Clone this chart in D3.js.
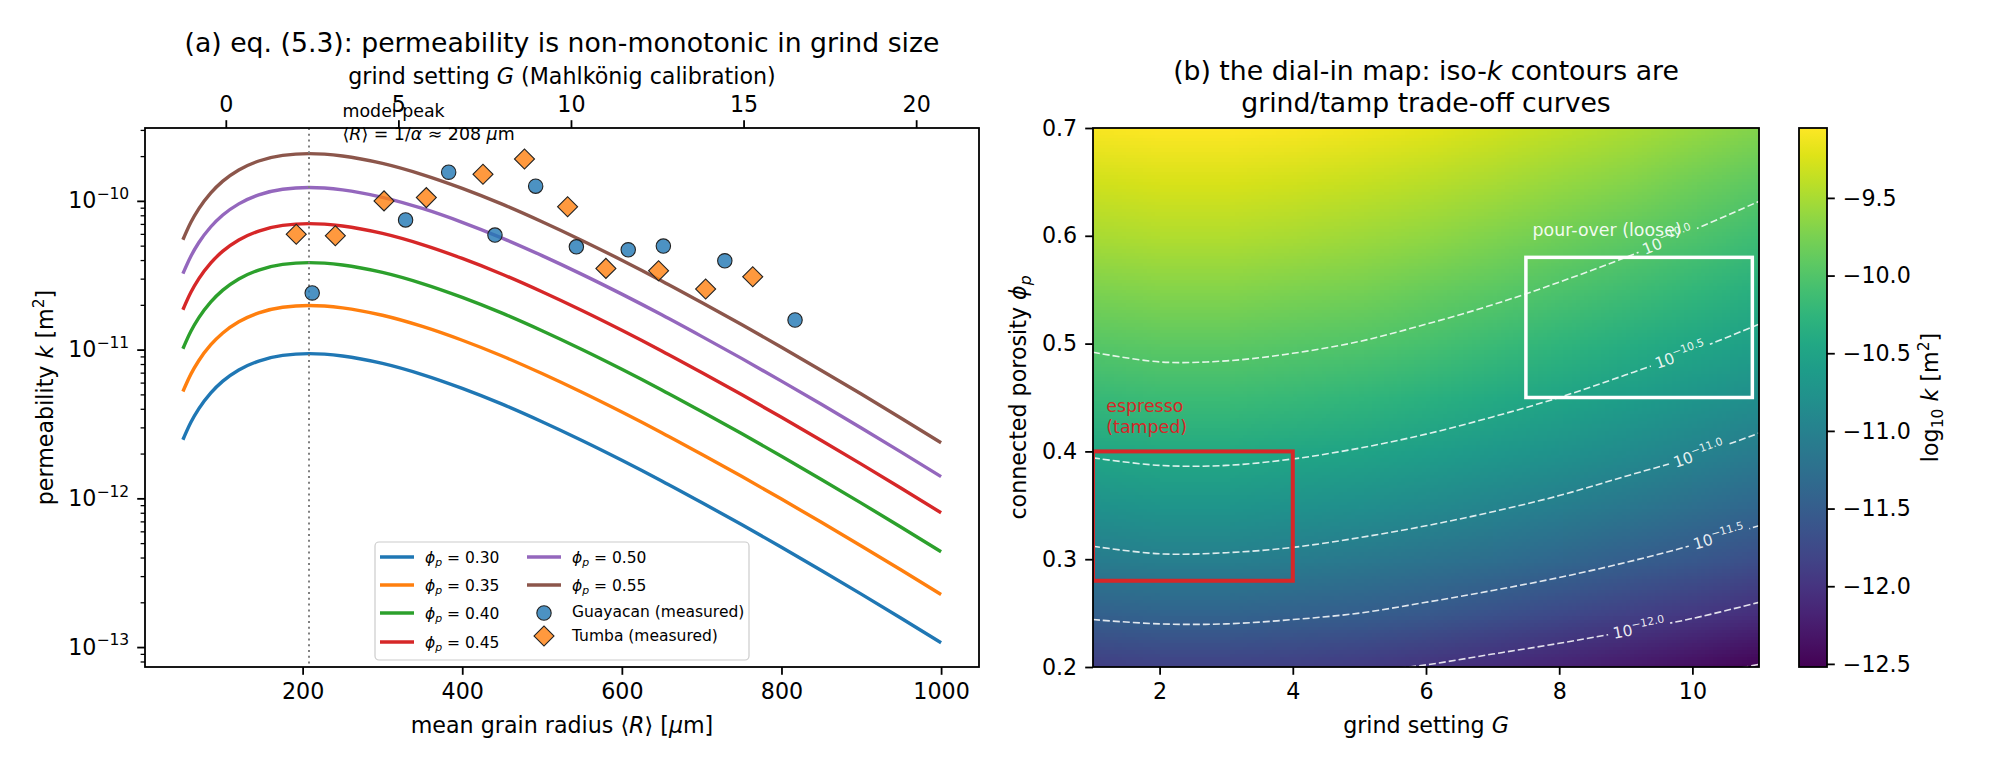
<!DOCTYPE html>
<html>
<head>
<meta charset="utf-8">
<script src="https://cdn.jsdelivr.net/npm/d3@7"></script>
<style>
  body { margin: 0; background: #fff; }
  svg { font-family: 'DejaVu Sans', sans-serif; }
  svg text { white-space: pre; }
</style>
</head>
<body>
<svg id="fig" width="2000" height="768"></svg>
<script>
// ---------- panel (a): model curves (log10 k in m^2) ----------
const radius = [50, 60, 70, 85, 100, 120, 145, 175, 208, 250, 300, 350, 400, 450, 500, 550, 600, 650, 700, 750, 800, 850, 900, 950, 1000];
const phiLevels = [0.30, 0.35, 0.40, 0.45, 0.50, 0.55];
const logK030 = [-11.606, -11.489, -11.397, -11.291, -11.212, -11.137, -11.077, -11.039, -11.027, -11.043, -11.093, -11.168, -11.261, -11.367, -11.485, -11.611, -11.744, -11.883, -12.028, -12.176, -12.329, -12.485, -12.644, -12.806, -12.971];
const logK035 = [-11.282, -11.165, -11.073, -10.967, -10.888, -10.813, -10.753, -10.715, -10.703, -10.719, -10.769, -10.844, -10.937, -11.043, -11.161, -11.287, -11.420, -11.559, -11.704, -11.852, -12.005, -12.161, -12.320, -12.482, -12.647];
const logK040 = [-10.994, -10.877, -10.785, -10.679, -10.600, -10.525, -10.465, -10.427, -10.415, -10.431, -10.481, -10.556, -10.649, -10.755, -10.873, -10.999, -11.132, -11.271, -11.416, -11.564, -11.717, -11.873, -12.032, -12.194, -12.359];
const logK045 = [-10.732, -10.615, -10.523, -10.417, -10.338, -10.263, -10.203, -10.165, -10.153, -10.169, -10.219, -10.294, -10.387, -10.493, -10.611, -10.737, -10.870, -11.009, -11.154, -11.302, -11.455, -11.611, -11.770, -11.932, -12.097];
const logK050 = [-10.489, -10.372, -10.280, -10.174, -10.095, -10.020, -9.960, -9.922, -9.910, -9.926, -9.976, -10.051, -10.144, -10.250, -10.368, -10.494, -10.627, -10.766, -10.911, -11.059, -11.212, -11.368, -11.527, -11.689, -11.854];
const logK055 = [-10.261, -10.144, -10.052, -9.946, -9.867, -9.792, -9.732, -9.694, -9.682, -9.698, -9.748, -9.823, -9.916, -10.022, -10.140, -10.266, -10.399, -10.538, -10.683, -10.831, -10.984, -11.140, -11.299, -11.461, -11.626];
const curveColors = ['#1f77b4', '#ff7f0e', '#2ca02c', '#d62728', '#9467bd', '#8c564b'];

const guayacanR = [212, 329, 383, 441, 492, 543, 608, 652, 729, 817];
const guayacanLogK = [-10.619, -10.128, -9.807, -10.230, -9.901, -10.309, -10.329, -10.304, -10.403, -10.801];
const tumbaR = [192, 241, 302, 355, 426, 478, 532, 580, 646, 705, 764];
const tumbaLogK = [-10.224, -10.235, -10.000, -9.978, -9.821, -9.718, -10.040, -10.454, -10.470, -10.593, -10.510];

const peakR = 208;
const noteAt = [250, -9.62];
const radiusLim = [2.5, 1047.5];
const logKLim = [-13.134, -9.51];
const radiusTicks = [200, 400, 600, 800, 1000];
const kTicks = [1e-13, 1e-12, 1e-11, 1e-10];
const gridTicksTop = [0, 5, 10, 15, 20];
const calibR0 = 103.75, calibSlope = 43.25;   // R = calibR0 + calibSlope * G

// ---------- panel (b): dial-in map ----------
const gridG = [1, 2, 3, 4, 5, 6, 7, 8, 9, 10, 11];
const gridPhi = [0.20, 0.25, 0.30, 0.35, 0.40, 0.45, 0.50, 0.55, 0.60, 0.65, 0.70];
const logKGrid = [
  [-11.90, -11.86, -11.86, -11.89, -11.95, -12.02, -12.11, -12.20, -12.30, -12.41, -12.52],
  [-11.45, -11.41, -11.41, -11.45, -11.50, -11.57, -11.66, -11.75, -11.85, -11.96, -12.07],
  [-11.08, -11.03, -11.04, -11.07, -11.13, -11.20, -11.28, -11.37, -11.48, -11.58, -11.70],
  [-10.75, -10.71, -10.71, -10.75, -10.80, -10.87, -10.96, -11.05, -11.15, -11.26, -11.37],
  [-10.46, -10.42, -10.43, -10.46, -10.51, -10.59, -10.67, -10.76, -10.86, -10.97, -11.09],
  [-10.20, -10.16, -10.16, -10.20, -10.25, -10.32, -10.41, -10.50, -10.60, -10.71, -10.82],
  [-9.96, -9.92, -9.92, -9.96, -10.01, -10.08, -10.17, -10.26, -10.36, -10.47, -10.58],
  [-9.73, -9.69, -9.69, -9.73, -9.78, -9.85, -9.94, -10.03, -10.13, -10.24, -10.35],
  [-9.51, -9.47, -9.47, -9.51, -9.56, -9.63, -9.72, -9.81, -9.91, -10.02, -10.14],
  [-9.30, -9.26, -9.26, -9.30, -9.35, -9.42, -9.51, -9.60, -9.70, -9.81, -9.92],
  [-9.09, -9.05, -9.05, -9.09, -9.14, -9.21, -9.30, -9.39, -9.49, -9.60, -9.71]
];
const contourLevels = [-10.0, -10.5, -11.0, -11.5, -12.0, -12.5];
const iso100 = [[1, 0.492], [2, 0.483], [3, 0.484], [4, 0.491], [5, 0.502], [6, 0.518], [7, 0.536], [8, 0.557], [9, 0.580], [10, 0.605], [11, 0.632]];
const iso105 = [[1, 0.394], [2, 0.387], [3, 0.387], [4, 0.393], [5, 0.403], [6, 0.416], [7, 0.432], [8, 0.450], [9, 0.471], [10, 0.493], [11, 0.518]];
const iso110 = [[1, 0.312], [2, 0.305], [3, 0.306], [4, 0.311], [5, 0.320], [6, 0.331], [7, 0.344], [8, 0.359], [9, 0.377], [10, 0.395], [11, 0.417]];
const iso115 = [[1, 0.244], [2, 0.240], [3, 0.240], [4, 0.244], [5, 0.250], [6, 0.260], [7, 0.271], [8, 0.283], [9, 0.297], [10, 0.313], [11, 0.331]];
const iso120 = [[5, 0.195], [6, 0.202], [7, 0.212], [8, 0.222], [9, 0.233], [10, 0.245], [11, 0.260]];
const iso125 = [[10, 0.190], [11, 0.2025]];
const labelG = [9.63, 9.82, 10.1, 10.4, 9.2, null];
const espressoBox = [1, 4, 0.28, 0.40];
const pourOverBox = [7.5, 10.9, 0.45, 0.58];
const gTicks = [2, 4, 6, 8, 10];
const phiTicks = [0.2, 0.3, 0.4, 0.5, 0.6, 0.7];
const cbTicks = [-12.5, -12.0, -11.5, -11.0, -10.5, -10.0, -9.5];

// ---------- helpers ----------
const FS = 22.2, FST = 26.7, FSN = 17.4, FSL = 15.5, FSC = 15.5;
const TICK = 7.8, MINOR = 4.4, PAD = 8;

// parts: 'plain' or [text, flags]; flags: i = italic, b = subscript, u = superscript
function rich(sel, parts, fs) {
  let cur = 0;
  parts.forEach(p => {
    const [txt, st] = typeof p === 'string' ? [p, ''] : p;
    const target = st.includes('b') ? 0.24 * fs : st.includes('u') ? -0.42 * fs : 0;
    const ts = sel.append('tspan').text(txt);
    if (target !== cur) ts.attr('dy', target - cur);
    if (st.includes('i')) ts.attr('font-style', 'italic');
    if (st.includes('b') || st.includes('u')) ts.attr('font-size', 0.7 * fs);
    cur = target;
  });
  return sel;
}

function styleAxis(g, w) {
  g.attr('font-family', null).attr('font-size', null);
  g.select('.domain').remove();
  g.selectAll('.tick line').attr('stroke', '#000').attr('stroke-width', w || 1.8);
  g.selectAll('.tick text').attr('font-size', FS).attr('fill', '#000');
}

const svg = d3.select('#fig');
const defs = svg.append('defs');

// ================= panel (a) =================
const A = {x0: 145, x1: 979, y0: 128, y1: 667};
const x = d3.scaleLinear().domain(radiusLim).range([A.x0, A.x1]);
const y = d3.scaleLog().domain(logKLim.map(v => 10 ** v)).range([A.y1, A.y0]);
const xTop = d3.scaleLinear()
  .domain(radiusLim.map(r => (r - calibR0) / calibSlope))
  .range([A.x0, A.x1]);

defs.append('clipPath').attr('id', 'clipA')
  .append('rect').attr('x', A.x0).attr('y', A.y0).attr('width', A.x1 - A.x0).attr('height', A.y1 - A.y0);

const gA = svg.append('g');

const series = [logK030, logK035, logK040, logK045, logK050, logK055]
  .map((vals, i) => ({phi: phiLevels[i], color: curveColors[i], pts: radius.map((r, j) => [r, vals[j]])}));

const line = d3.line()
  .x(d => x(d[0]))
  .y(d => y(10 ** d[1]))
  .curve(d3.curveMonotoneX);

const plotA = gA.append('g').attr('clip-path', 'url(#clipA)');
plotA.selectAll('path.model')
  .data(series)
  .enter()
  .append('path')
  .attr('class', 'model')
  .attr('d', d => line(d.pts))
  .attr('fill', 'none')
  .attr('stroke', d => d.color)
  .attr('stroke-width', 3.4);

plotA.append('line')
  .attr('x1', x(peakR)).attr('x2', x(peakR))
  .attr('y1', A.y0).attr('y2', A.y1)
  .attr('stroke', '#808080').attr('stroke-width', 2)
  .attr('stroke-dasharray', '2,3.8');

const diamond = d3.symbol().type(d3.symbolSquare).size(200);
plotA.selectAll('path.tumba')
  .data(tumbaR.map((r, i) => [r, tumbaLogK[i]]))
  .enter()
  .append('path')
  .attr('class', 'tumba')
  .attr('d', diamond)
  .attr('transform', d => `translate(${x(d[0])},${y(10 ** d[1])}) rotate(45)`)
  .attr('fill', '#ff7f0e').attr('fill-opacity', 0.8)
  .attr('stroke', '#222').attr('stroke-width', 1.1);

plotA.selectAll('circle.guay')
  .data(guayacanR.map((r, i) => [r, guayacanLogK[i]]))
  .enter()
  .append('circle')
  .attr('class', 'guay')
  .attr('cx', d => x(d[0]))
  .attr('cy', d => y(10 ** d[1]))
  .attr('r', 7.2)
  .attr('fill', '#1f77b4').attr('fill-opacity', 0.8)
  .attr('stroke', '#222').attr('stroke-width', 1.1);

// annotation of the model peak
const nx = x(noteAt[0]), ny = y(10 ** noteAt[1]);
gA.append('text').attr('x', nx).attr('y', ny - 27).attr('font-size', FSN).text('model peak');
rich(gA.append('text').attr('x', nx).attr('y', ny - 4).attr('font-size', FSN),
  ['⟨', ['R', 'i'], '⟩ = 1/', ['α', 'i'], ' ≈ 208 ', ['μ', 'i'], 'm'], FSN);

// axes
const axB = gA.append('g').attr('transform', `translate(0,${A.y1})`)
  .call(d3.axisBottom(x).tickValues(radiusTicks).tickFormat(d3.format('d')).tickSize(TICK).tickSizeOuter(0).tickPadding(PAD));
styleAxis(axB);

const axT = gA.append('g').attr('transform', `translate(0,${A.y0})`)
  .call(d3.axisTop(xTop).tickValues(gridTicksTop).tickFormat(d3.format('d')).tickSize(TICK).tickSizeOuter(0).tickPadding(PAD));
styleAxis(axT);

const minorK = y.ticks().filter(v => Math.abs(Math.log10(v) - Math.round(Math.log10(v))) > 1e-6);
const axLm = gA.append('g').attr('transform', `translate(${A.x0},0)`)
  .call(d3.axisLeft(y).tickValues(minorK).tickFormat(() => '').tickSize(MINOR).tickSizeOuter(0));
styleAxis(axLm, 1.3);

const axL = gA.append('g').attr('transform', `translate(${A.x0},0)`)
  .call(d3.axisLeft(y).tickValues(kTicks).tickSize(TICK).tickSizeOuter(0).tickPadding(PAD));
styleAxis(axL);
axL.selectAll('.tick text').each(function (d) {
  const t = d3.select(this).text(null);
  rich(t, ['10', ['−' + Math.abs(Math.round(Math.log10(d))), 'u']], FS);
});

gA.append('rect')
  .attr('x', A.x0).attr('y', A.y0).attr('width', A.x1 - A.x0).attr('height', A.y1 - A.y0)
  .attr('fill', 'none').attr('stroke', '#000').attr('stroke-width', 1.8);

// labels
const cxA = (A.x0 + A.x1) / 2;
gA.append('text').attr('x', cxA).attr('y', 52).attr('text-anchor', 'middle').attr('font-size', FST)
  .text('(a) eq. (5.3): permeability is non-monotonic in grind size');
rich(gA.append('text').attr('x', cxA).attr('y', 84).attr('text-anchor', 'middle').attr('font-size', FS),
  ['grind setting ', ['G', 'i'], ' (Mahlkönig calibration)'], FS);
rich(gA.append('text').attr('x', cxA).attr('y', 733).attr('text-anchor', 'middle').attr('font-size', FS),
  ['mean grain radius ⟨', ['R', 'i'], '⟩ [', ['μ', 'i'], 'm]'], FS);
rich(gA.append('text').attr('transform', `translate(53,${(A.y0 + A.y1) / 2}) rotate(-90)`)
  .attr('text-anchor', 'middle').attr('font-size', FS),
  ['permeability ', ['k', 'i'], ' [m', ['2', 'u'], ']'], FS);

// legend
const leg = gA.append('g');
leg.append('rect').attr('x', 375).attr('y', 542).attr('width', 374).attr('height', 118).attr('rx', 4)
  .attr('fill', '#fff').attr('fill-opacity', 0.8).attr('stroke', '#cccccc').attr('stroke-width', 1.2);
const legCols = [{hx: 380, tx: 425}, {hx: 527, tx: 572}];
const legRows = [557, 585, 613, 642];
series.forEach((s, i) => {
  const col = legCols[i < 4 ? 0 : 1];
  const ry = i < 4 ? legRows[i] : legRows[i - 4];
  leg.append('line').attr('x1', col.hx).attr('x2', col.hx + 34).attr('y1', ry).attr('y2', ry)
    .attr('stroke', s.color).attr('stroke-width', 3.4);
  rich(leg.append('text').attr('x', col.tx).attr('y', ry + 5.5).attr('font-size', FSL),
    [['ϕ', 'i'], ['p', 'ib'], ' = ' + d3.format('.2f')(s.phi)], FSL);
});
leg.append('circle').attr('cx', 544).attr('cy', 613).attr('r', 7.2)
  .attr('fill', '#1f77b4').attr('fill-opacity', 0.8).attr('stroke', '#222').attr('stroke-width', 1.1);
leg.append('text').attr('x', 572).attr('y', 616.5).attr('font-size', FSL).text('Guayacan (measured)');
leg.append('path').attr('d', diamond).attr('transform', 'translate(544,636) rotate(45)')
  .attr('fill', '#ff7f0e').attr('fill-opacity', 0.8).attr('stroke', '#222').attr('stroke-width', 1.1);
leg.append('text').attr('x', 572).attr('y', 640.5).attr('font-size', FSL).text('Tumba (measured)');

// ================= panel (b) =================
const B = {x0: 1093, x1: 1759, y0: 128, y1: 667};
const xG = d3.scaleLinear().domain([gridG[0], gridG[gridG.length - 1]]).range([B.x0, B.x1]);
const yP = d3.scaleLinear().domain([gridPhi[0], gridPhi[gridPhi.length - 1]]).range([B.y1, B.y0]);
const kExt = d3.extent(logKGrid.flat());
const color = v => d3.interpolateViridis((v - kExt[0]) / (kExt[1] - kExt[0]));

defs.append('clipPath').attr('id', 'clipB')
  .append('rect').attr('x', B.x0).attr('y', B.y0).attr('width', B.x1 - B.x0).attr('height', B.y1 - B.y0);

const gB = svg.append('g');
const plotB = gB.append('g').attr('clip-path', 'url(#clipB)');

// heat map: one pixel per grid node, smoothed by the browser when scaled up
const cnv = document.createElement('canvas');
cnv.width = gridG.length;
cnv.height = gridPhi.length;
const ctx = cnv.getContext('2d');
const img = ctx.createImageData(cnv.width, cnv.height);
gridPhi.forEach((p, pi) => {
  const row = cnv.height - 1 - pi;
  gridG.forEach((g, gi) => {
    const c = d3.rgb(color(logKGrid[pi][gi]));
    const k = (row * cnv.width + gi) * 4;
    img.data[k] = c.r; img.data[k + 1] = c.g; img.data[k + 2] = c.b; img.data[k + 3] = 255;
  });
});
ctx.putImageData(img, 0, 0);
const dG = gridG[1] - gridG[0], dP = gridPhi[1] - gridPhi[0];
plotB.append('image')
  .attr('href', cnv.toDataURL())
  .attr('preserveAspectRatio', 'none')
  .attr('x', xG(gridG[0] - dG / 2))
  .attr('y', yP(gridPhi[gridPhi.length - 1] + dP / 2))
  .attr('width', xG(gridG[gridG.length - 1] + dG / 2) - xG(gridG[0] - dG / 2))
  .attr('height', yP(gridPhi[0] - dP / 2) - yP(gridPhi[gridPhi.length - 1] + dP / 2));

// iso-k contours with inline labels
const isoLines = [iso100, iso105, iso110, iso115, iso120, iso125];
const isoPath = d3.line().x(d => xG(d[0])).y(d => yP(d[1])).curve(d3.curveCatmullRom.alpha(0.5));
const labelLayer = gB.append('g').attr('clip-path', 'url(#clipB)');
isoLines.forEach((pts, i) => {
  const mid = 'iso' + i;
  const mask = defs.append('mask').attr('id', mid).attr('maskUnits', 'userSpaceOnUse')
    .attr('x', 0).attr('y', 0).attr('width', 2000).attr('height', 768);
  mask.append('rect').attr('width', 2000).attr('height', 768).attr('fill', '#fff');
  if (labelG[i] !== null) {
    const g = labelG[i];
    let j = pts.findIndex(p => p[0] > g);
    if (j < 1) j = pts.length - 1;
    const p0 = pts[j - 1], p1 = pts[j];
    const f = (g - p0[0]) / (p1[0] - p0[0]);
    const lx = xG(g), ly = yP(p0[1] + f * (p1[1] - p0[1]));
    const ang = Math.atan2(yP(p1[1]) - yP(p0[1]), xG(p1[0]) - xG(p0[0])) * 180 / Math.PI;
    const t = labelLayer.append('text')
      .attr('x', lx).attr('y', ly + 5)
      .attr('text-anchor', 'middle')
      .attr('font-size', FSC)
      .attr('fill', '#fff').attr('fill-opacity', 0.9)
      .attr('transform', `rotate(${ang},${lx},${ly})`);
    rich(t, ['10', ['−' + d3.format('.1f')(Math.abs(contourLevels[i])), 'u']], FSC);
    const w = t.node().getBBox().width;
    mask.append('rect')
      .attr('x', lx - w / 2 - 5).attr('y', ly - 10).attr('width', w + 10).attr('height', 20)
      .attr('fill', '#000')
      .attr('transform', `rotate(${ang},${lx},${ly})`);
  }
  plotB.append('path')
    .attr('d', isoPath(pts))
    .attr('fill', 'none')
    .attr('stroke', '#fff').attr('stroke-opacity', 0.85)
    .attr('stroke-width', 1.6)
    .attr('stroke-dasharray', '7,3')
    .attr('mask', `url(#${mid})`);
});

// operating windows
plotB.append('rect')
  .attr('x', xG(espressoBox[0])).attr('y', yP(espressoBox[3]))
  .attr('width', xG(espressoBox[1]) - xG(espressoBox[0]))
  .attr('height', yP(espressoBox[2]) - yP(espressoBox[3]))
  .attr('fill', 'none').attr('stroke', '#d62728').attr('stroke-width', 4);
gB.append('text').attr('x', xG(1.2)).attr('y', yP(0.417) - 20.7).attr('font-size', FSN).attr('fill', '#d62728').text('espresso');
gB.append('text').attr('x', xG(1.2)).attr('y', yP(0.417)).attr('font-size', FSN).attr('fill', '#d62728').text('(tamped)');

plotB.append('rect')
  .attr('x', xG(pourOverBox[0])).attr('y', yP(pourOverBox[3]))
  .attr('width', xG(pourOverBox[1]) - xG(pourOverBox[0]))
  .attr('height', yP(pourOverBox[2]) - yP(pourOverBox[3]))
  .attr('fill', 'none').attr('stroke', '#fff').attr('stroke-width', 3.5);
gB.append('text').attr('x', xG(7.6)).attr('y', yP(0.6)).attr('font-size', FSN)
  .attr('fill', '#fff').attr('fill-opacity', 0.92).text('pour-over (loose)');

// axes
const axBB = gB.append('g').attr('transform', `translate(0,${B.y1})`)
  .call(d3.axisBottom(xG).tickValues(gTicks).tickSize(TICK).tickSizeOuter(0).tickPadding(PAD));
styleAxis(axBB);
const axBL = gB.append('g').attr('transform', `translate(${B.x0},0)`)
  .call(d3.axisLeft(yP).tickValues(phiTicks).tickFormat(d3.format('.1f')).tickSize(TICK).tickSizeOuter(0).tickPadding(PAD));
styleAxis(axBL);
gB.append('rect')
  .attr('x', B.x0).attr('y', B.y0).attr('width', B.x1 - B.x0).attr('height', B.y1 - B.y0)
  .attr('fill', 'none').attr('stroke', '#000').attr('stroke-width', 1.8);

const cxB = (B.x0 + B.x1) / 2;
rich(gB.append('text').attr('x', cxB).attr('y', 80).attr('text-anchor', 'middle').attr('font-size', FST),
  ['(b) the dial-in map: iso-', ['k', 'i'], ' contours are'], FST);
gB.append('text').attr('x', cxB).attr('y', 112).attr('text-anchor', 'middle').attr('font-size', FST)
  .text('grind/tamp trade-off curves');
rich(gB.append('text').attr('x', cxB).attr('y', 733).attr('text-anchor', 'middle').attr('font-size', FS),
  ['grind setting ', ['G', 'i']], FS);
rich(gB.append('text').attr('transform', `translate(1026,${(B.y0 + B.y1) / 2}) rotate(-90)`)
  .attr('text-anchor', 'middle').attr('font-size', FS),
  ['connected porosity ', ['ϕ', 'i'], ['p', 'ib']], FS);

// colour bar
const C = {x0: 1799, x1: 1827, y0: 128, y1: 667};
const cScale = d3.scaleLinear().domain(kExt).range([C.y1, C.y0]);
const grad = defs.append('linearGradient').attr('id', 'viridis')
  .attr('x1', 0).attr('x2', 0).attr('y1', 1).attr('y2', 0);
d3.range(0, 1.0001, 0.05).forEach(t => {
  grad.append('stop').attr('offset', t).attr('stop-color', d3.interpolateViridis(t));
});
gB.append('rect').attr('x', C.x0).attr('y', C.y0).attr('width', C.x1 - C.x0).attr('height', C.y1 - C.y0)
  .attr('fill', 'url(#viridis)').attr('stroke', '#000').attr('stroke-width', 1.8);
const axC = gB.append('g').attr('transform', `translate(${C.x1},0)`)
  .call(d3.axisRight(cScale).tickValues(cbTicks).tickFormat(d3.format('.1f')).tickSize(TICK).tickSizeOuter(0).tickPadding(PAD));
styleAxis(axC);
rich(gB.append('text').attr('transform', `translate(1938,${(C.y0 + C.y1) / 2}) rotate(-90)`)
  .attr('text-anchor', 'middle').attr('font-size', FS),
  ['log', ['10', 'b'], ' ', ['k', 'i'], ' [m', ['2', 'u'], ']'], FS);
</script>
</body>
</html>
